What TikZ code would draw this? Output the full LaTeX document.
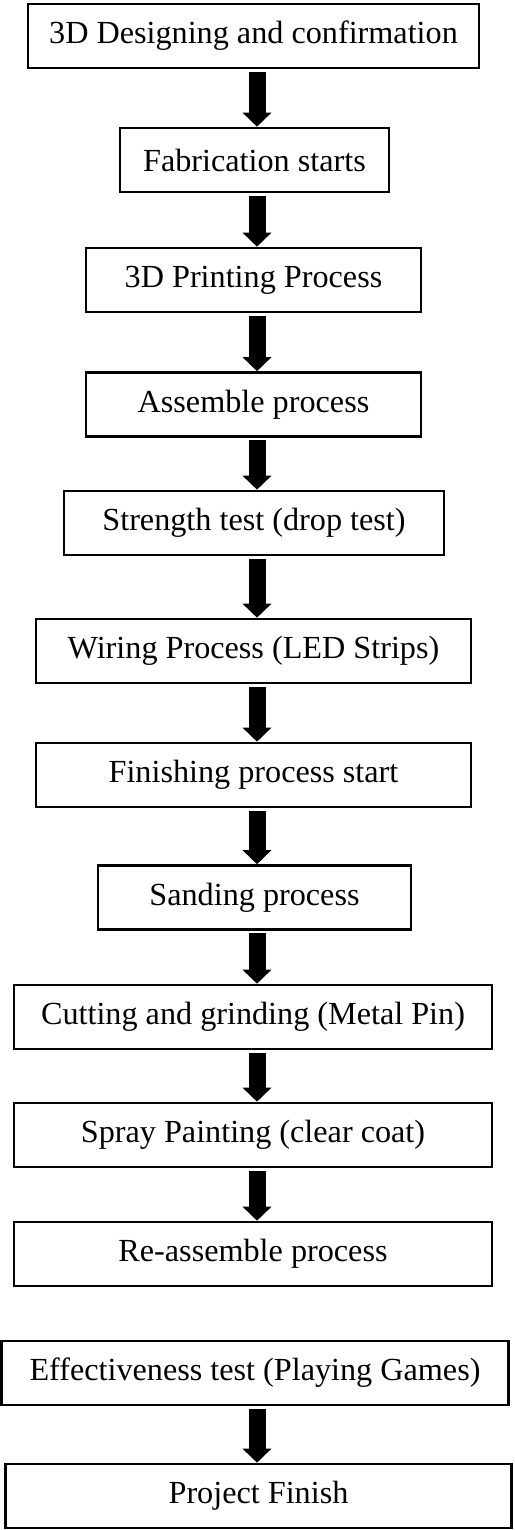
\documentclass[tikz,border=0pt]{standalone}
\usepackage{fontspec}
\setmainfont{Liberation Serif}
\usetikzlibrary{arrows.meta}
\tikzset{
  stepbox/.style={draw=black,line width=2.6pt,minimum height=64pt,inner sep=0pt,
    font=\fontsize{32.2}{37}\selectfont},
  flow/.style={draw=black,line width=17pt,-{Triangle[width=28pt,length=14pt]},
    shorten <=2.5pt}
}
\begin{document}
\begin{tikzpicture}[x=1pt,y=-1pt]
  \useasboundingbox (0,0) rectangle (514,1530);
  \coordinate (ax) at (257,0);
  \node[stepbox,minimum width=451pt] (s1) at (253.5,36) {3D Designing and confirmation};
  \node[stepbox,minimum width=269pt] (s2) at (254.5,160) {Fabrication starts};
  \node[stepbox,minimum width=335pt] (s3) at (253.5,280) {3D Printing Process};
  \node[stepbox,minimum width=335pt] (s4) at (253.5,404.5) {Assemble process};
  \node[stepbox,minimum width=380pt] (s5) at (254,523) {Strength test (drop test)};
  \node[stepbox,minimum width=435pt] (s6) at (253.5,651) {Wiring Process (LED Strips)};
  \node[stepbox,minimum width=435pt] (s7) at (253.5,775) {Finishing process start};
  \node[stepbox,minimum width=313pt] (s8) at (254.5,897.5) {Sanding process};
  \node[stepbox,minimum width=478pt] (s9) at (253,1017) {Cutting and grinding (Metal Pin)};
  \node[stepbox,minimum width=478pt] (s10) at (253,1135) {Spray Painting (clear coat)};
  \node[stepbox,minimum width=478pt] (s11) at (253,1254) {Re-assemble process};
  \node[stepbox,minimum width=507.5pt] (s12) at (255,1373) {Effectiveness test (Playing Games)};
  \node[stepbox,minimum width=506.5pt] (s13) at (258.5,1496) {Project Finish};
  % arrows, none between s11 and s12
  \foreach \a/\b in {s1/s2,s2/s3,s3/s4,s4/s5,s5/s6,s6/s7,s7/s8,s8/s9,s9/s10,s10/s11,s12/s13}
    \draw[flow] (\a.south -| ax) -- (\b.north -| ax);
\end{tikzpicture}
\end{document}
